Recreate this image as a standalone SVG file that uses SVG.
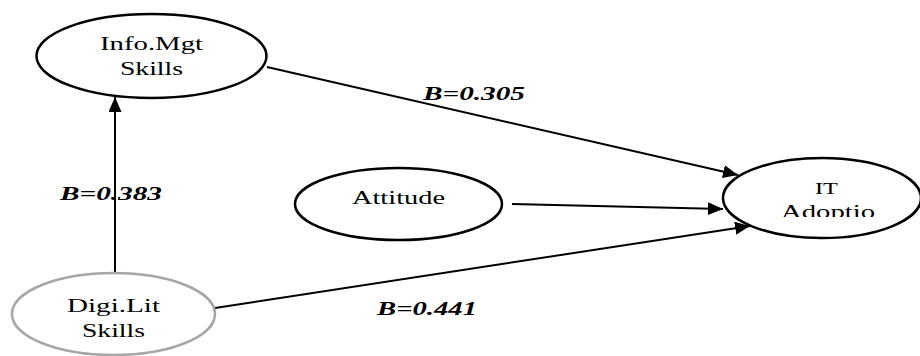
<svg xmlns="http://www.w3.org/2000/svg" width="920" height="356" viewBox="0 0 920 356">
<style>
.node{fill:#fff;stroke:#000;stroke-width:2.5}
.gray{stroke:#a6a6a6}
.t{font-family:'Liberation Serif','DejaVu Serif','Times New Roman',serif;font-size:19px;fill:#000}
.b{font-family:'Liberation Serif','DejaVu Serif','Times New Roman',serif;font-size:19px;font-weight:bold;font-style:italic;fill:#000}
.e{stroke:#000;stroke-width:2;fill:none;marker-end:url(#ah)}
</style>
<defs>
<marker id="ah" markerUnits="userSpaceOnUse" markerWidth="16" markerHeight="14" refX="15" refY="6.5" orient="auto">
<path d="M0,0 L15,6.5 L0,13 Z" fill="#000"/>
</marker>
<clipPath id="clipIT"><rect x="700" y="150" width="220" height="67"/></clipPath>
</defs>
<g id="connectors">
<line class="e" x1="115" y1="273" x2="115" y2="97"/>
<line class="e" x1="267" y1="67" x2="738" y2="175"/>
<line class="e" x1="512" y1="204" x2="723" y2="209"/>
<line class="e" x1="215" y1="308" x2="750" y2="226"/>
</g>
<g id="labels">
<text class="b" x="423" y="100" textLength="102" lengthAdjust="spacingAndGlyphs">B=0.305</text>
<text class="b" x="60" y="200" textLength="102" lengthAdjust="spacingAndGlyphs">B=0.383</text>
<text class="b" x="377" y="315" textLength="100" lengthAdjust="spacingAndGlyphs">B=0.441</text>
</g>
<g id="info-mgt">
<ellipse class="node" cx="151.5" cy="56" rx="115" ry="42"/>
<text class="t" x="100" y="50" textLength="103" lengthAdjust="spacingAndGlyphs">Info.Mgt</text>
<text class="t" x="120" y="75" textLength="63" lengthAdjust="spacingAndGlyphs">Skills</text>
</g>
<g id="digi-lit">
<ellipse class="node gray" cx="113.5" cy="314" rx="101.5" ry="41"/>
<text class="t" x="67" y="312" textLength="93" lengthAdjust="spacingAndGlyphs">Digi.Lit</text>
<text class="t" x="82" y="336.5" textLength="63" lengthAdjust="spacingAndGlyphs">Skills</text>
</g>
<g id="attitude">
<ellipse class="node" cx="398.5" cy="204" rx="103.5" ry="36"/>
<text class="t" x="352" y="204" textLength="93" lengthAdjust="spacingAndGlyphs" style="font-size:18.5px">Attitude</text>
</g>
<g id="it-adoption">
<ellipse class="node" cx="822" cy="198" rx="99" ry="40"/>
<text class="t" x="815" y="194" textLength="23" lengthAdjust="spacingAndGlyphs" style="font-size:17px">IT</text>
<g clip-path="url(#clipIT)">
<text class="t" x="781" y="218" textLength="94" lengthAdjust="spacingAndGlyphs">Adoptio</text>
</g>
</g>
</svg>
